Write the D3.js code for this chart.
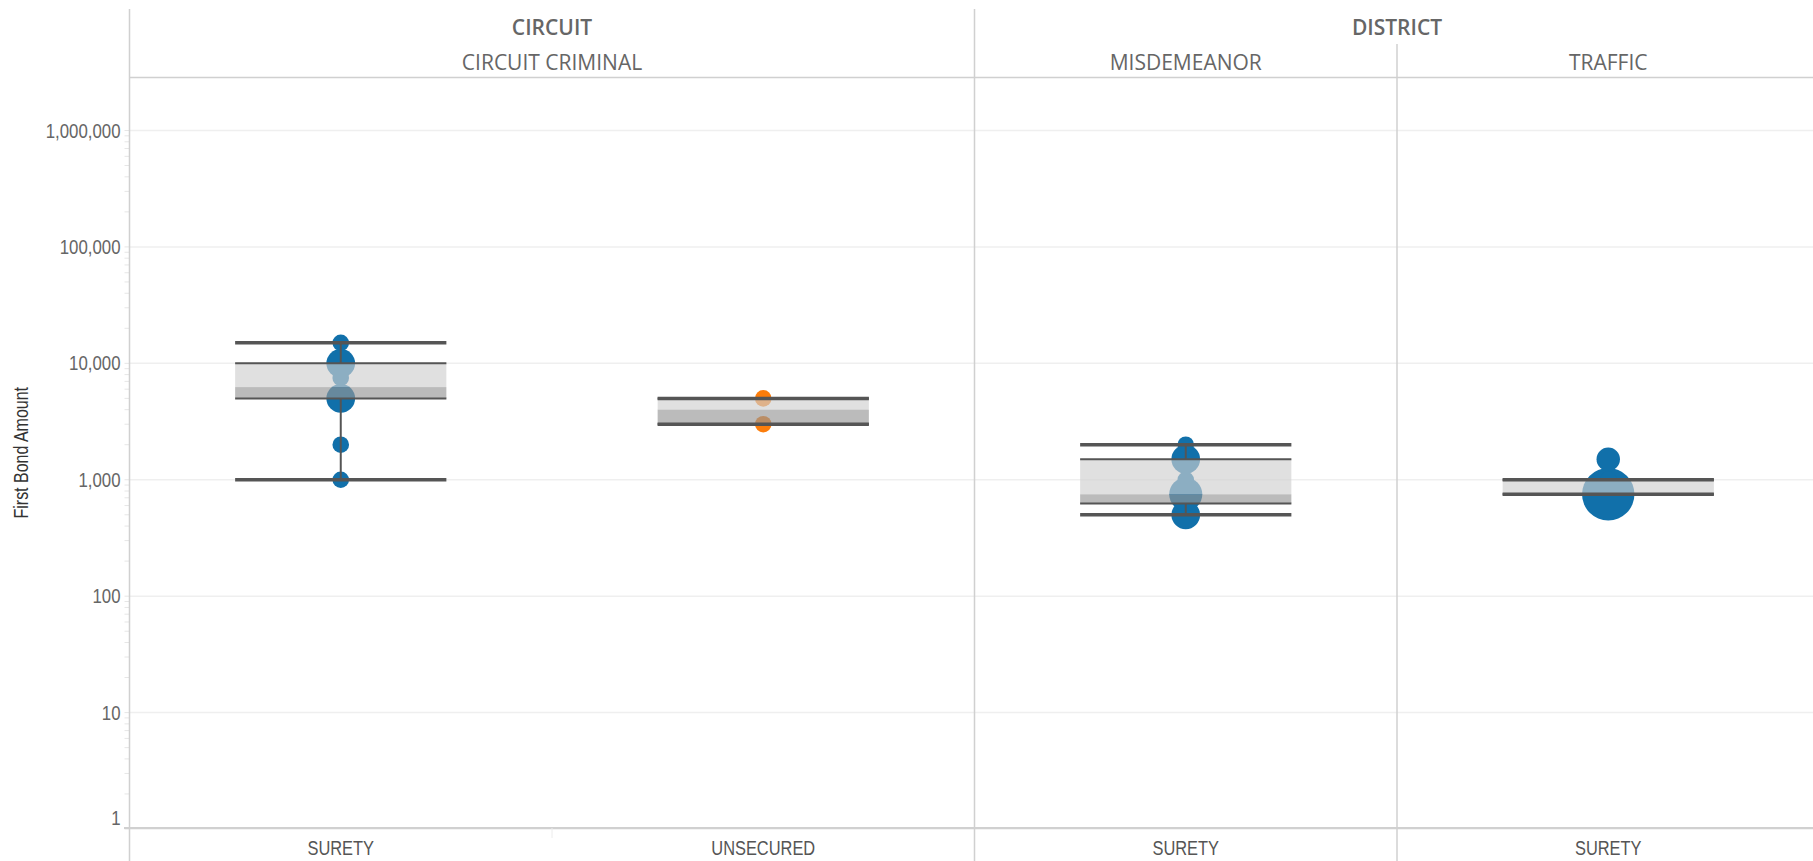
<!DOCTYPE html>
<html>
<head>
<meta charset="utf-8">
<script src="https://cdn.jsdelivr.net/npm/d3@7"></script>
<style>
body { margin: 0; background: #fff; }
</style>
</head>
<body>
<script>
// one entry per column of the chart
var courts = ["CIRCUIT", "CIRCUIT", "DISTRICT", "DISTRICT"];
var caseTypes = ["CIRCUIT CRIMINAL", "CIRCUIT CRIMINAL", "MISDEMEANOR", "TRAFFIC"];
var bondTypes = ["SURETY", "UNSECURED", "SURETY", "SURETY"];

// bond amounts and how many cases sit on each amount
var bondValues = [
	[1000, 2000, 5000, 7500, 10000, 15000],
	[3000, 5000],
	[500, 750, 1000, 1500, 2000],
	[750, 1000, 1500]
];
var bondCounts = [
	[1, 1, 3, 1, 3, 1],
	[1, 1],
	[3, 4, 1, 3, 1],
	[10, 1, 2]
];

// box plot statistics
var whiskerLow = [1000, 3000, 500, 750];
var q1 = [5000, 3000, 625, 750];
var median = [6250, 4000, 750, 750];
var q3 = [10000, 5000, 1500, 1000];
var whiskerHigh = [15000, 5000, 2000, 1000];

var yTicks = [1, 10, 100, 1000, 10000, 100000, 1000000];

var bondColors = {"SURETY": "#1170aa", "UNSECURED": "#fc7d0b"};

var width = 1813;
var height = 861;
var plotLeft = 129.5;
var plotRight = 1819.5;
var plotTop = 77.5;
var plotBottom = 828;
var sans = "'Liberation Sans', Arial, sans-serif";

// no narrow face installed: squeeze the glyphs like Arial Narrow
function condense(sel, k) {
	sel.each(function() {
		var len = this.getComputedTextLength();
		d3.select(this)
			.attr("textLength", len * k)
			.attr("lengthAdjust", "spacingAndGlyphs");
	});
}

var svg = d3.select("body")
	.append("svg")
		.attr("width", width)
		.attr("height", height)
		.style("display", "block");

var x = d3.scaleBand()
	.domain(d3.range(bondTypes.length))
	.range([plotLeft, plotRight])
	.padding(0);

var y = d3.scaleLog()
	.domain([1, 1000000])
	.range([829, 130.5]);

var r = d3.scaleSqrt()
	.domain([0, 10])
	.range([0, 26.2]);

// contiguous runs of equal labels -> header cells
function spans(arr) {
	var out = [];
	arr.forEach((d, i) => {
		if (out.length && out[out.length - 1].label === d) out[out.length - 1].end = i;
		else out.push({label: d, start: i, end: i});
	});
	return out;
}

// gridlines
svg.append("g")
	.selectAll("line")
	.data(yTicks)
	.enter()
	.append("line")
		.attr("x1", plotLeft)
		.attr("x2", width)
		.attr("y1", (d) => y(d))
		.attr("y2", (d) => y(d))
		.attr("stroke", "#efefef")
		.attr("stroke-width", 1.5);

// minor ticks on the log axis
svg.append("g")
	.selectAll("line")
	.data(y.ticks())
	.enter()
	.append("line")
		.attr("x1", plotLeft - 5)
		.attr("x2", plotLeft)
		.attr("y1", (d) => y(d))
		.attr("y2", (d) => y(d))
		.attr("stroke", "#e6e6e6")
		.attr("stroke-width", 1);

var cols = svg.append("g")
	.selectAll("g")
	.data(d3.range(bondTypes.length))
	.enter()
	.append("g");

var bw = x.bandwidth();

cols.each(function(i) {
	var g = d3.select(this);
	var cx = x(i) + bw / 2;
	var pts = bondValues[i].map((v, j) => ({value: v, count: bondCounts[i][j]}));

	// circles sized by count
	g.selectAll("circle")
		.data(pts)
		.enter()
		.append("circle")
			.attr("cx", cx)
			.attr("cy", (d) => y(d.value))
			.attr("r", (d) => r(d.count))
			.attr("fill", bondColors[bondTypes[i]]);

	// upper box (median to q3) and lower box (q1 to median)
	g.append("rect")
		.attr("x", cx - bw / 4)
		.attr("width", bw / 2)
		.attr("y", y(q3[i]))
		.attr("height", y(median[i]) - y(q3[i]))
		.attr("fill", "#cfcfcf")
		.attr("fill-opacity", 0.65);
	g.append("rect")
		.attr("x", cx - bw / 4)
		.attr("width", bw / 2)
		.attr("y", y(median[i]))
		.attr("height", y(q1[i]) - y(median[i]))
		.attr("fill", "#969696")
		.attr("fill-opacity", 0.65);

	// whisker stems
	[[whiskerHigh[i], q3[i]], [q1[i], whiskerLow[i]]].forEach((p) => {
		g.append("line")
			.attr("x1", cx).attr("x2", cx)
			.attr("y1", y(p[0])).attr("y2", y(p[1]))
			.attr("stroke", "#555")
			.attr("stroke-width", 2);
	});

	// box edges
	[q3[i], q1[i]].forEach((v) => {
		g.append("line")
			.attr("x1", cx - bw / 4).attr("x2", cx + bw / 4)
			.attr("y1", y(v)).attr("y2", y(v))
			.attr("stroke", "#555")
			.attr("stroke-width", 2);
	});

	// whisker caps
	[whiskerHigh[i], whiskerLow[i]].forEach((v) => {
		g.append("line")
			.attr("x1", cx - bw / 4).attr("x2", cx + bw / 4)
			.attr("y1", y(v)).attr("y2", y(v))
			.attr("stroke", "#555")
			.attr("stroke-width", 3.5);
	});
});

// left axis
var leftAxis = d3.axisLeft(y)
	.tickValues(yTicks)
	.tickFormat(d3.format(","))
	.tickSize(0)
	.tickPadding(9);

var ax = svg.append("g")
	.attr("class", "left axis")
	.attr("transform", "translate(" + plotLeft + ",0)")
	.call(leftAxis);
ax.select(".domain").remove();
ax.selectAll("text")
	.attr("font-family", sans)
	.attr("font-size", "20.5px")
	.attr("fill", "#666")
	.call(condense, 0.82);
ax.selectAll(".tick")
	.filter((d) => d === 1)
	.select("text")
	.attr("y", -11);

svg.append("text")
	.attr("class", "y axis-label")
	.attr("x", -(plotTop + plotBottom) / 2)
	.attr("y", 21)
	.attr("transform", "rotate(-90)")
	.attr("text-anchor", "middle")
	.attr("dominant-baseline", "central")
	.attr("font-family", sans)
	.attr("font-size", "19.5px")
	.attr("fill", "#333")
	.text("First Bond Amount")
	.call(condense, 0.82);

// frame lines
var lineColor = "#d0d0d0";
svg.append("line")
	.attr("x1", plotLeft).attr("x2", plotLeft)
	.attr("y1", 9).attr("y2", height)
	.attr("stroke", lineColor).attr("stroke-width", 1.5);
svg.append("line")
	.attr("x1", plotLeft).attr("x2", width)
	.attr("y1", plotTop).attr("y2", plotTop)
	.attr("stroke", lineColor).attr("stroke-width", 1.5);
svg.append("line")
	.attr("x1", 124).attr("x2", width)
	.attr("y1", plotBottom).attr("y2", plotBottom)
	.attr("stroke", lineColor).attr("stroke-width", 2);

var courtSpans = spans(courts);
var caseSpans = spans(caseTypes);

// court dividers (full height) and case type dividers (from second header row)
courtSpans.slice(1).forEach((s) => {
	svg.append("line")
		.attr("x1", x(s.start)).attr("x2", x(s.start))
		.attr("y1", 9).attr("y2", height)
		.attr("stroke", lineColor).attr("stroke-width", 1.5);
});
caseSpans.slice(1).forEach((s) => {
	if (courtSpans.some((c) => c.start === s.start)) return;
	svg.append("line")
		.attr("x1", x(s.start)).attr("x2", x(s.start))
		.attr("y1", 44).attr("y2", height)
		.attr("stroke", lineColor).attr("stroke-width", 1.5);
});
// faint split between bond types inside a case type
bondTypes.forEach((b, i) => {
	if (i === 0 || caseTypes[i] !== caseTypes[i - 1]) return;
	svg.append("line")
		.attr("x1", x(i)).attr("x2", x(i))
		.attr("y1", plotBottom).attr("y2", plotBottom + 10)
		.attr("stroke", "#ececec").attr("stroke-width", 1);
});

// header texts
svg.append("g")
	.selectAll("text")
	.data(courtSpans)
	.enter()
	.append("text")
		.attr("x", (d) => (x(d.start) + x(d.end) + bw) / 2)
		.attr("y", 35)
		.attr("text-anchor", "middle")
		.attr("font-family", "'Open Sans', sans-serif")
		.attr("font-weight", 600)
		.attr("font-size", "21px")
		.attr("fill", "#666")
		.text((d) => d.label);

svg.append("g")
	.selectAll("text")
	.data(caseSpans)
	.enter()
	.append("text")
		.attr("x", (d) => (x(d.start) + x(d.end) + bw) / 2)
		.attr("y", 70)
		.attr("text-anchor", "middle")
		.attr("font-family", "'Open Sans', sans-serif")
		.attr("font-weight", 500)
		.attr("font-size", "21px")
		.attr("fill", "#666")
		.text((d) => d.label);

// bottom labels
svg.append("g")
	.selectAll("text")
	.data(bondTypes)
	.enter()
	.append("text")
		.attr("x", (d, i) => x(i) + bw / 2)
		.attr("y", 855)
		.attr("text-anchor", "middle")
		.attr("font-family", sans)
		.attr("font-size", "20px")
		.attr("fill", "#555")
		.text((d) => d)
		.call(condense, 0.82);
</script>
</body>
</html>
